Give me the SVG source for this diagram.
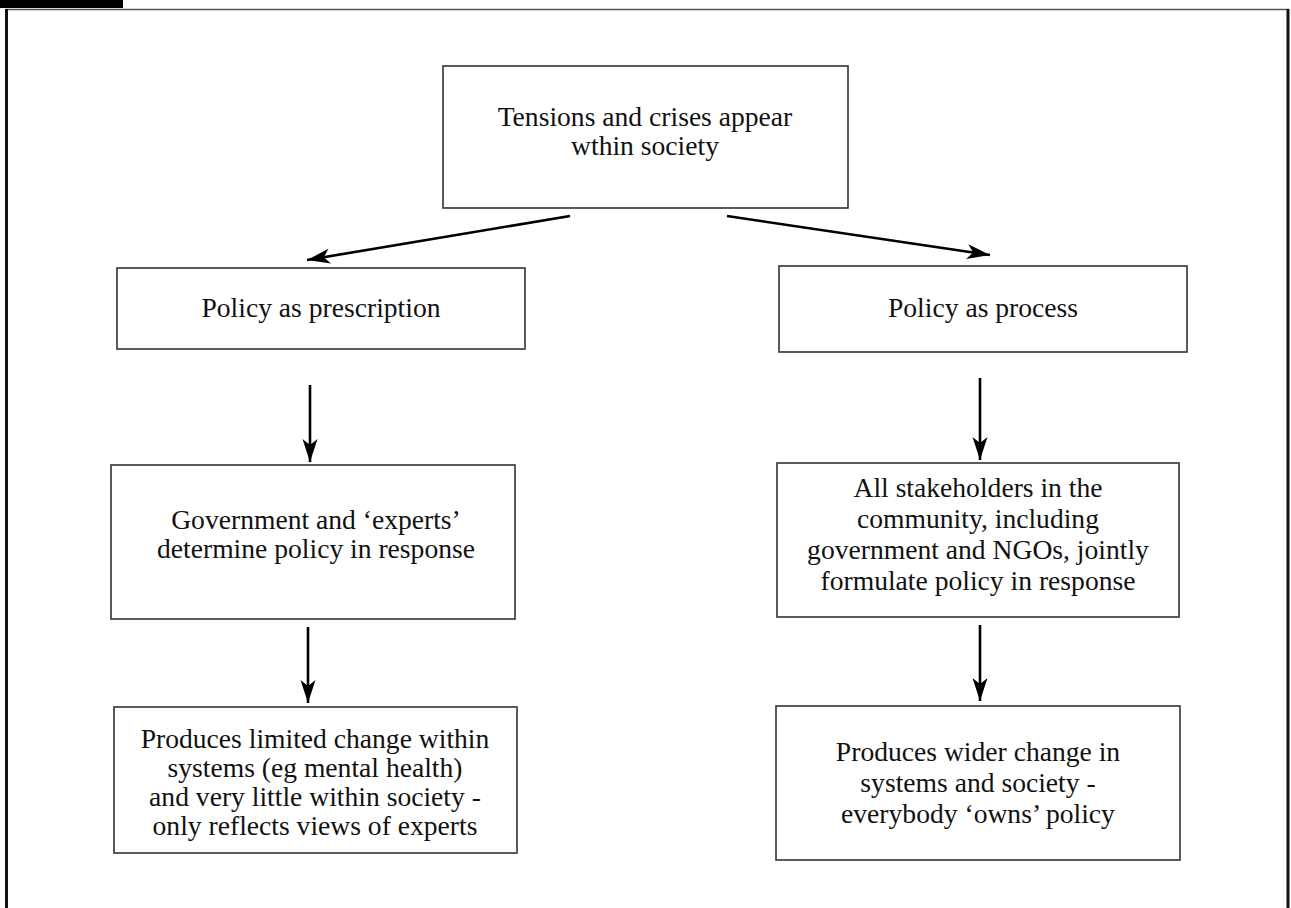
<svg xmlns="http://www.w3.org/2000/svg" width="1291" height="908" viewBox="0 0 1291 908">
<style>
.box{fill:#fff;stroke:#333;stroke-width:1.6}
.t{font-family:"Liberation Serif","Times New Roman",serif;font-size:27.6px;fill:#111;text-anchor:middle}
.c{stroke:#000;stroke-width:2.6;fill:none;marker-end:url(#ah)}
</style>
<defs>
<marker id="ah" markerUnits="userSpaceOnUse" markerWidth="26" markerHeight="18" viewBox="-24 -9 26 18" refX="0" refY="0" orient="auto">
<path d="M0,0 L-23,-7.5 L-17,0 L-23,7.5 Z" fill="#000"/>
</marker>
</defs>
<rect x="0" y="0" width="1291" height="908" fill="#fff"/>
<g id="frame">
<rect x="0" y="0" width="123" height="8" fill="#000"/>
<line x1="6" y1="9.5" x2="1289" y2="9.5" stroke="#555" stroke-width="1.5"/>
<line x1="6.5" y1="9" x2="6.5" y2="908" stroke="#111" stroke-width="3"/>
<line x1="1288" y1="9" x2="1288" y2="908" stroke="#111" stroke-width="3"/>
</g>
<g id="connectors">
<line class="c" x1="570" y1="216" x2="307" y2="260"/>
<line class="c" x1="727" y1="216" x2="990" y2="255"/>
<line class="c" x1="310" y1="385" x2="310" y2="462"/>
<line class="c" x1="980" y1="378" x2="980" y2="460"/>
<line class="c" x1="308" y1="627" x2="308" y2="703"/>
<line class="c" x1="980" y1="625" x2="980" y2="701"/>
</g>
<g id="n-tensions">
<rect class="box" x="443" y="66" width="405" height="142"/>
<text class="t" x="645" y="126">Tensions and crises appear</text>
<text class="t" x="645" y="155">wthin society</text>
</g>
<g id="n-prescription">
<rect class="box" x="117" y="268" width="408" height="81"/>
<text class="t" x="321" y="317">Policy as prescription</text>
</g>
<g id="n-process">
<rect class="box" x="779" y="266" width="408" height="86"/>
<text class="t" x="983" y="317">Policy as process</text>
</g>
<g id="n-government">
<rect class="box" x="111" y="465" width="404" height="154"/>
<text class="t" x="316" y="529">Government and ‘experts’</text>
<text class="t" x="316" y="558">determine policy in response</text>
</g>
<g id="n-stakeholders">
<rect class="box" x="777" y="463" width="402" height="154"/>
<text class="t" x="978" y="497">All stakeholders in the</text>
<text class="t" x="978" y="528">community, including</text>
<text class="t" x="978" y="559">government and NGOs, jointly</text>
<text class="t" x="978" y="590">formulate policy in response</text>
</g>
<g id="n-limited">
<rect class="box" x="114" y="707" width="403" height="146"/>
<text class="t" x="315" y="748">Produces limited change within</text>
<text class="t" x="315" y="777">systems (eg mental health)</text>
<text class="t" x="315" y="806">and very little within society -</text>
<text class="t" x="315" y="835">only reflects views of experts</text>
</g>
<g id="n-wider">
<rect class="box" x="776" y="706" width="404" height="154"/>
<text class="t" x="978" y="761">Produces wider change in</text>
<text class="t" x="978" y="792">systems and society -</text>
<text class="t" x="978" y="823">everybody ‘owns’ policy</text>
</g>
</svg>
